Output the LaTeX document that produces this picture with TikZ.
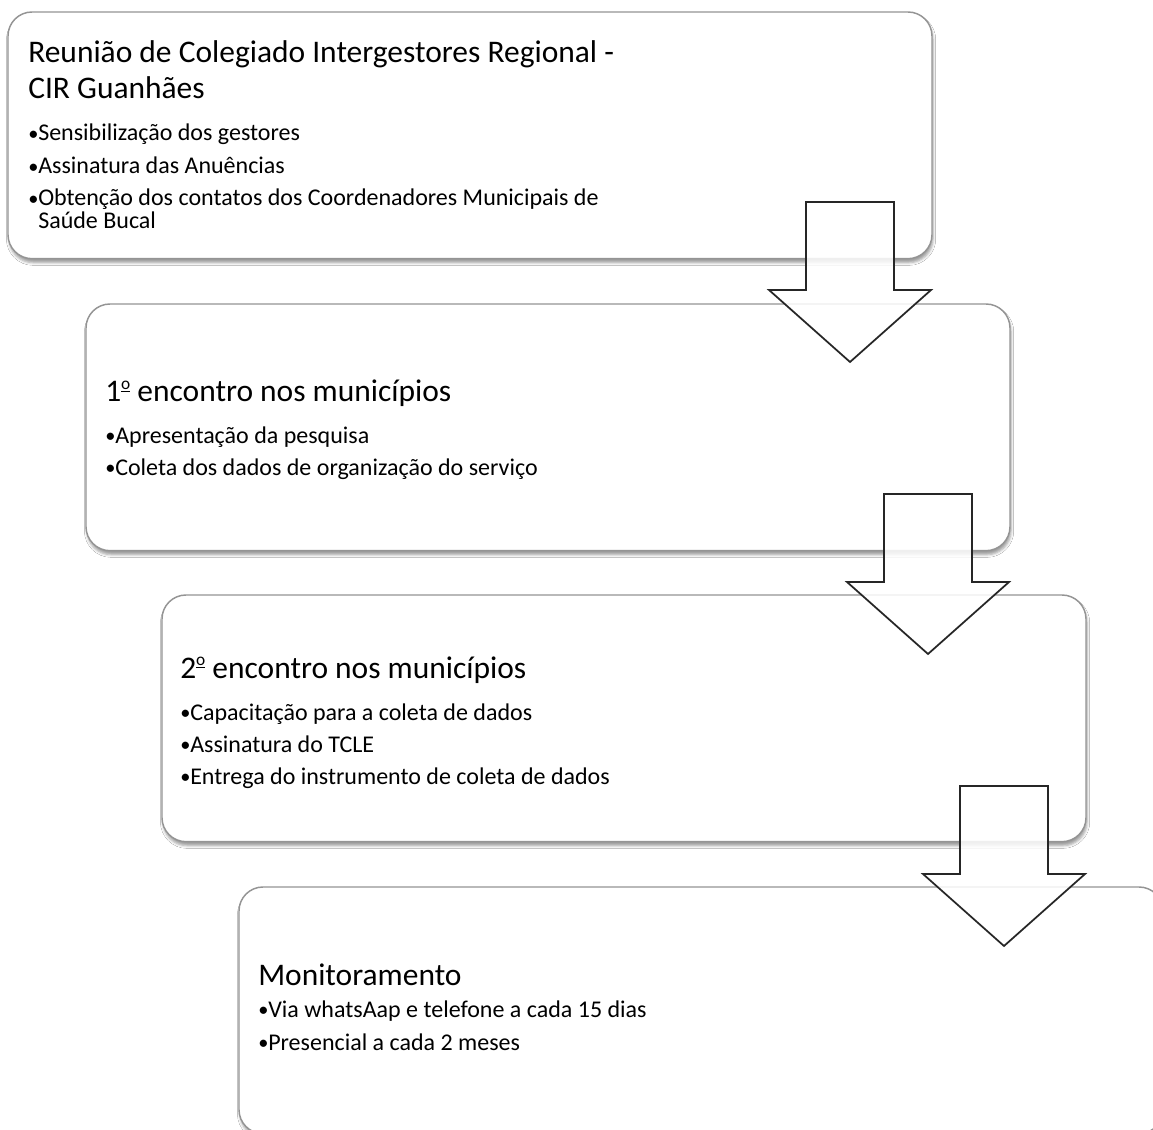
\documentclass[tikz,border=0pt]{standalone}
\usepackage{fontspec}
\setmainfont{Carlito}
\usetikzlibrary{shadows.blur}
\newcommand{\bul}{\hbox to 7.5pt{\raisebox{0.05ex}{\scalebox{0.85}{•}}\hss}}
\newcommand{\ordo}{\raisebox{0.85ex}{\underline{\fontsize{13}{13}\selectfont o}}}
\begin{document}
\begin{tikzpicture}[x=0.75pt,y=-0.75pt,
  box/.style={draw=black!42, line width=1.1pt, fill=white, rounded corners=18pt,
    anchor=north west, inner sep=0pt, outer sep=0pt,
    minimum width=693pt, minimum height=185pt,
    blur shadow={shadow xshift=0.8pt, shadow yshift=-3pt, shadow blur radius=2pt, shadow opacity=38}},
  ttl/.style={anchor=base west, inner sep=0pt, font=\fontsize{23.6}{26}\selectfont},
  itm/.style={anchor=base west, inner sep=0pt, font=\fontsize{18}{20}\selectfont},
  barrow/.style={draw=black!85, line width=1.3pt, fill=white, fill opacity=0.85, line join=miter}]
\clip (0,0) rectangle (1153,1130);
\fill[white] (0,0) rectangle (1153,1130);
% box 1
\node[box] (b1) at (8,12) {};
\node[ttl] (t1a) at (28,63) {Reunião de Colegiado Intergestores Regional -};
\node[ttl] (t1b) at (28,99) {CIR Guanhães};
\node[itm] (i1a) at (28,141) {\bul Sensibilização dos gestores};
\node[itm] (i1b) at (28,174) {\bul Assinatura das Anuências};
\node[itm] (i1c) at (28,206) {\bul Obtenção dos contatos dos Coordenadores Municipais de};
\node[itm] (i1d) at (38,229) {Saúde Bucal};
% box 2
\node[box] (b2) at (86,304) {};
\node[ttl] (t2) at (105,402) {1\ordo\ encontro nos municípios};
\node[itm] (i2a) at (105,443) {\bul Apresentação da pesquisa};
\node[itm] (i2b) at (105,475) {\bul Coleta dos dados de organização do serviço};
% arrow 1
\coordinate (a1) at (850,202);
\draw[barrow] (a1) ++(-44,0) -- ++(0,88) -- ++(-37,0) -- ++(81,72) -- ++(81,-72) -- ++(-37,0) -- ++(0,-88) -- cycle;
% box 3
\node[box] (b3) at (162,595) {};
\node[ttl] (t3) at (180,678) {2\ordo\ encontro nos municípios};
\node[itm] (i3a) at (180,720) {\bul Capacitação para a coleta de dados};
\node[itm] (i3b) at (180,752) {\bul Assinatura do TCLE};
\node[itm] (i3c) at (180,784) {\bul Entrega do instrumento de coleta de dados};
% arrow 2
\coordinate (a2) at (928,494);
\draw[barrow] (a2) ++(-44,0) -- ++(0,88) -- ++(-37,0) -- ++(81,72) -- ++(81,-72) -- ++(-37,0) -- ++(0,-88) -- cycle;
% box 4
\node[box] (b4) at (239,887) {};
\node[ttl] (t4) at (258,985) {Monitoramento};
\node[itm] (i4a) at (258,1017) {\bul Via whatsAap e telefone a cada 15 dias};
\node[itm] (i4b) at (258,1050) {\bul Presencial a cada 2 meses};
% arrow 3
\coordinate (a3) at (1004,786);
\draw[barrow] (a3) ++(-44,0) -- ++(0,88) -- ++(-37,0) -- ++(81,72) -- ++(81,-72) -- ++(-37,0) -- ++(0,-88) -- cycle;
\end{tikzpicture}
\end{document}
